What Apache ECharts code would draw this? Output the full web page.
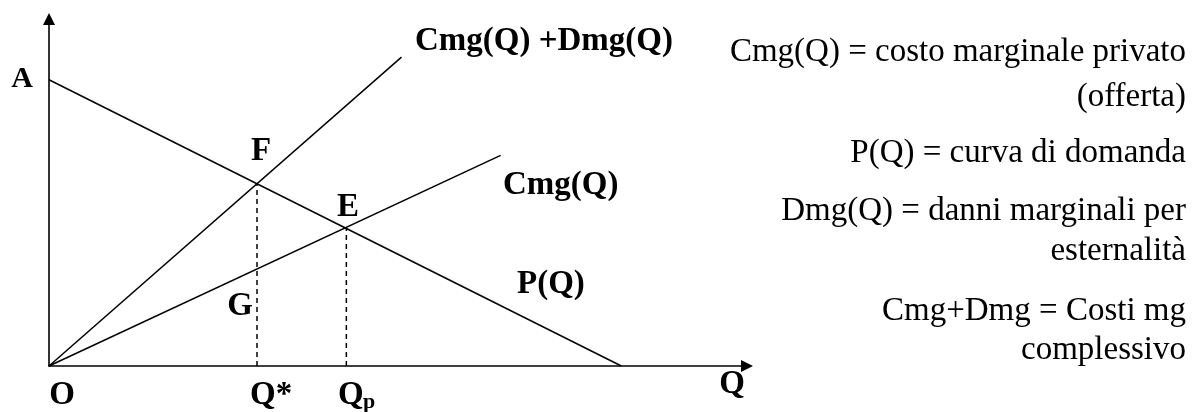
<!DOCTYPE html>
<html>
<head>
<meta charset="utf-8">
<script src="https://cdn.jsdelivr.net/npm/echarts@6/dist/echarts.min.js"></script>
<style>
  html, body { margin: 0; padding: 0; background: #fff; }
  #chart { width: 1199px; height: 412px; }
</style>
</head>
<body>
<div id="chart"></div>
<script>
// curve end points (Q, price)
const demand = [[0, 82.5], [82, 0]]
const cmgDmg = [[0, 0], [50.5, 89]]
const cmg = [[0, 0], [64.7, 60.7]]
const pointF = [29.8, 52.5]
const pointE = [42.6, 39.9]

const notes = [
  'Cmg(Q) = costo marginale privato',
  '(offerta)',
  'P(Q) = curva di domanda',
  'Dmg(Q) = danni marginali per',
  'esternalità',
  'Cmg+Dmg = Costi mg',
  'complessivo'
]
const noteY = [52, 97, 153, 211, 251, 311, 350]

const serif = "'Liberation Serif', 'Times New Roman', serif"
const chart = echarts.init(document.getElementById('chart'))

function lineSeries(data, dashed) {
  return {
    type: 'line',
    data: data,
    symbol: 'none',
    silent: true,
    lineStyle: { color: '#000', width: 1.5, type: dashed ? [5, 4] : 'solid' }
  }
}

function label(text, x, y, size, align) {
  return {
    type: 'text',
    x: x,
    y: y,
    style: {
      text: text,
      font: 'bold ' + size + 'px ' + serif,
      fill: '#000',
      align: align || 'center',
      verticalAlign: 'middle'
    }
  }
}

const graphics = [
  label('A', 22, 79, 30),
  label('F', 261, 151, 33),
  label('E', 348, 207, 33),
  label('G', 240, 306, 33),
  label('O', 62, 395, 33),
  label('Q*', 250, 395, 33, 'left'),
  label('Q', 338, 395, 33, 'left'),
  label('p', 363, 402, 22, 'left'),
  label('Q', 732, 384, 33),
  label('Cmg(Q) +Dmg(Q)', 415, 41, 33, 'left'),
  label('Cmg(Q)', 503, 185, 33, 'left'),
  label('P(Q)', 517, 284, 33, 'left')
]
notes.forEach((t, i) => {
  graphics.push({
    type: 'text',
    x: 1186,
    y: noteY[i],
    style: {
      text: t,
      font: '33px ' + serif,
      fill: '#000',
      align: 'right',
      verticalAlign: 'middle'
    }
  })
})

const axisBase = {
  type: 'value',
  min: 0,
  max: 100,
  axisLine: {
    show: true,
    symbol: ['none', 'triangle'],
    symbolSize: [12, 12],
    lineStyle: { color: '#000', width: 1.6 }
  },
  axisTick: { show: false },
  axisLabel: { show: false },
  splitLine: { show: false }
}

chart.setOption({
  animation: false,
  grid: { left: 49, right: 452, top: 19, bottom: 46 },
  xAxis: axisBase,
  yAxis: axisBase,
  series: [
    lineSeries(demand),
    lineSeries(cmgDmg),
    lineSeries(cmg),
    lineSeries([[pointF[0], 0], pointF], true),
    lineSeries([[pointE[0], 0], pointE], true)
  ],
  graphic: graphics
})
</script>
</body>
</html>
